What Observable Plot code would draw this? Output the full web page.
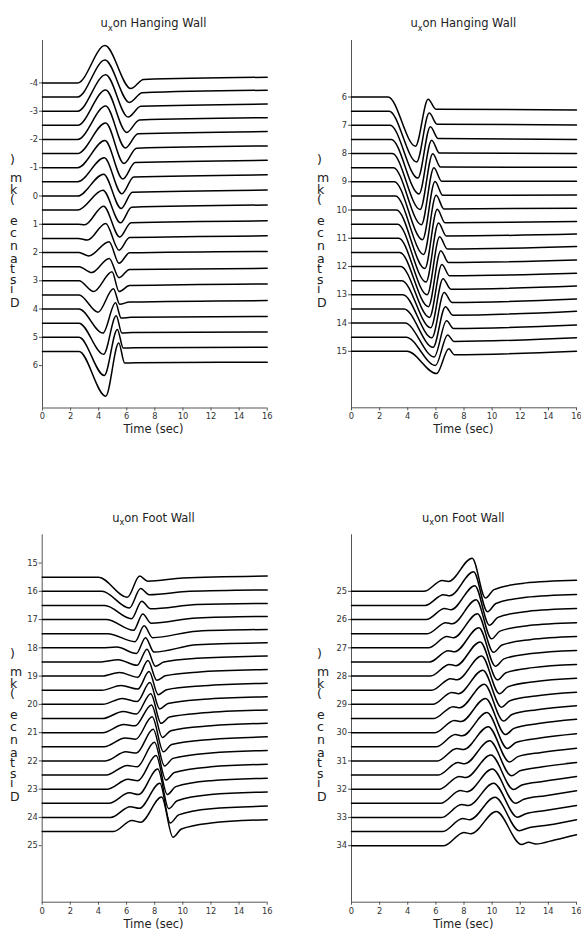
<!DOCTYPE html>
<html>
<head>
<meta charset="utf-8">
<script src="https://cdn.jsdelivr.net/npm/d3@7"></script>
<script src="https://cdn.jsdelivr.net/npm/@observablehq/plot@0.6"></script>
<style>
  body { margin: 0; background: #fff; }
  #wrap { position: relative; width: 581px; height: 950px; overflow: hidden; font-family: "DejaVu Sans", sans-serif; }
</style>
</head>
<body>
<div id="wrap"></div>
<script>
// ---------- DATA ----------
const timeTicks = [0, 2, 4, 6, 8, 10, 12, 14, 16];

// Panel 1: u_x on Hanging Wall (distances -4 .. 5.5 km)
const hwLeftDist = [-4, -3.5, -3, -2.5, -2, -1.5, -1, -0.5, 0, 0.5, 1, 1.5, 2, 2.5, 3, 3.5, 4, 4.5, 5, 5.5];
const hwLeftTicks = [-4, -3, -2, -1, 0, 1, 2, 3, 4, 5, 6];
// each trace: [time (s), displacement in axis units (positive = up)]
const hwLeftTraces = [
  [[2.5,0],[4.45,1.32],[6.29,-0.2],[7.2,0.12],[16,0.2]],
  [[2.5,0],[4.45,1.31],[6.2,-0.19],[7.1,0.15],[16,0.24]],
  [[2.5,0],[4.5,1.29],[6.1,-0.21],[7.0,0.17],[16,0.25]],
  [[2.5,0],[4.5,1.25],[6.0,-0.25],[6.9,0.19],[16,0.27]],
  [[2.5,0],[4.5,1.18],[5.9,-0.3],[6.8,0.2],[16,0.28]],
  [[2.5,0],[4.5,1.08],[5.8,-0.35],[6.7,0.19],[16,0.27]],
  [[2.5,0],[4.45,0.96],[5.72,-0.4],[6.6,0.18],[16,0.26]],
  [[2.5,0],[4.4,0.85],[5.65,-0.42],[6.5,0.17],[16,0.25]],
  [[2.5,0],[4.35,0.77],[5.6,-0.44],[6.4,0.13],[16,0.21]],
  [[2.5,0],[4.3,0.7],[5.55,-0.45],[6.35,0.1],[16,0.18]],
  [[2.55,0],[3.0,-0.02],[4.35,0.64],[5.5,-0.45],[6.3,0.05],[16,0.12]],
  [[2.55,0],[3.2,-0.06],[4.5,0.53],[5.45,-0.42],[6.2,0.03],[16,0.09]],
  [[2.6,0],[3.3,-0.12],[4.74,0.38],[5.45,-0.38],[6.2,-0.01],[16,0.04]],
  [[2.6,0],[3.5,-0.21],[4.75,0.29],[5.45,-0.39],[6.2,-0.1],[16,-0.06]],
  [[2.6,0],[3.65,-0.38],[4.95,0.32],[5.45,-0.38],[6.2,-0.17],[16,-0.11]],
  [[2.6,0],[3.95,-0.61],[5.05,0.22],[5.5,-0.33],[6.2,-0.25],[16,-0.2]],
  [[2.6,0],[4.3,-0.85],[5.2,0.22],[5.6,-0.32],[6.3,-0.29],[16,-0.26]],
  [[2.6,0],[4.35,-1.1],[5.25,0.26],[5.65,-0.35],[6.4,-0.33],[16,-0.31]],
  [[2.6,0],[4.4,-1.35],[5.33,0.28],[5.75,-0.38],[6.5,-0.37],[16,-0.35]],
  [[2.6,0],[4.5,-1.58],[5.43,0.3],[5.85,-0.41],[6.6,-0.4],[16,-0.38]]
];

// Panel 2: u_x on Hanging Wall (distances 6 .. 15 km)
const hwRightDist = [6, 6.5, 7, 7.5, 8, 8.5, 9, 9.5, 10, 10.5, 11, 11.5, 12, 12.5, 13, 13.5, 14, 14.5, 15];
const hwRightTicks = [6, 7, 8, 9, 10, 11, 12, 13, 14, 15];
const hwRightTraces = [
  [[2.6,0],[4.55,-1.74],[5.45,-0.08],[6.0,-0.43],[16,-0.46]],
  [[2.68,0],[4.63,-1.8],[5.53,-0.07],[6.08,-0.46],[16,-0.49]],
  [[2.75,0],[4.72,-1.87],[5.61,-0.05],[6.16,-0.47],[16,-0.5]],
  [[2.83,0],[4.8,-1.93],[5.7,-0.03],[6.25,-0.48],[16,-0.5]],
  [[2.9,0],[4.88,-1.98],[5.78,-0.01],[6.33,-0.48],[16,-0.49]],
  [[2.98,0],[4.97,-2.02],[5.86,0.0],[6.41,-0.48],[16,-0.48]],
  [[3.05,0],[5.05,-2.05],[5.94,0.01],[6.49,-0.48],[16,-0.47]],
  [[3.13,0],[5.13,-2.07],[6.02,0.02],[6.57,-0.46],[16,-0.44]],
  [[3.2,0],[5.22,-2.07],[6.1,0.03],[6.65,-0.45],[16,-0.41]],
  [[3.28,0],[5.3,-2.05],[6.19,0.04],[6.74,-0.42],[16,-0.35]],
  [[3.35,0],[5.38,-2.0],[6.27,0.05],[6.82,-0.38],[16,-0.29]],
  [[3.43,0],[5.47,-1.92],[6.35,0.06],[6.9,-0.36],[16,-0.27]],
  [[3.5,0],[5.55,-1.8],[6.43,0.07],[6.98,-0.33],[16,-0.24]],
  [[3.58,0],[5.63,-1.67],[6.51,0.07],[7.06,-0.3],[16,-0.19]],
  [[3.65,0],[5.72,-1.52],[6.59,0.08],[7.14,-0.27],[16,-0.15]],
  [[3.73,0],[5.8,-1.36],[6.68,0.08],[7.2,-0.22],[16,-0.08]],
  [[3.8,0],[5.88,-1.2],[6.76,0.08],[7.25,-0.19],[16,-0.07]],
  [[3.88,0],[5.97,-1.0],[6.84,0.08],[7.28,-0.15],[16,-0.02]],
  [[3.96,0],[6.05,-0.79],[6.92,0.09],[7.3,-0.12],[16,0.0]]
];

// Panel 3: u_x on Foot Wall (distances 15.5 .. 24.5 km)
const fwLeftDist = [15.5, 16, 16.5, 17, 17.5, 18, 18.5, 19, 19.5, 20, 20.5, 21, 21.5, 22, 22.5, 23, 23.5, 24, 24.5];
const fwLeftTicks = [15, 16, 17, 18, 19, 20, 21, 22, 23, 24, 25];
const fwLeftTraces = [
  [[4.0,0],[6.05,-0.71],[6.93,0.04],[7.5,-0.14],[10,-0.03],[16,0.04]],
  [[4.25,0],[6.2,-0.59],[7.0,0.1],[7.6,-0.12],[10.5,0.0],[16,0.05]],
  [[4.45,0],[6.35,-0.47],[7.08,0.15],[7.7,-0.12],[11,0.03],[16,0.07]],
  [[4.55,0],[6.5,-0.38],[7.15,0.2],[7.75,-0.13],[11,0.06],[16,0.11]],
  [[4.65,0],[6.6,-0.28],[7.25,0.28],[7.85,-0.14],[11,0.09],[16,0.15]],
  [[4.2,0],[5.3,0.03],[6.7,-0.2],[7.35,0.36],[7.95,-0.15],[11,0.11],[16,0.18]],
  [[4.2,0],[5.4,0.08],[6.75,-0.12],[7.45,0.45],[8.05,-0.15],[8.65,0.0],[11,0.13],[16,0.21]],
  [[4.25,0],[5.5,0.13],[6.8,-0.04],[7.52,0.55],[8.15,-0.15],[8.75,0.01],[11,0.14],[16,0.23]],
  [[4.25,0],[5.6,0.17],[6.8,0.04],[7.6,0.66],[8.25,-0.16],[8.85,0.02],[11.5,0.16],[16,0.25]],
  [[4.3,0],[5.7,0.21],[6.75,0.1],[7.66,0.77],[8.35,-0.16],[8.95,0.03],[11.5,0.18],[16,0.27]],
  [[4.3,0],[5.75,0.25],[6.7,0.16],[7.72,0.88],[8.45,-0.17],[9.05,0.05],[11.5,0.2],[16,0.3]],
  [[4.3,0],[5.8,0.29],[6.6,0.24],[7.77,0.98],[8.55,-0.17],[9.15,0.07],[12,0.24],[16,0.33]],
  [[4.4,0],[5.9,0.31],[6.65,0.27],[7.82,1.06],[8.62,-0.18],[9.2,0.08],[12,0.26],[16,0.35]],
  [[4.5,0],[5.95,0.32],[6.7,0.28],[7.89,1.12],[8.7,-0.18],[9.3,0.09],[12,0.28],[16,0.37]],
  [[4.55,0],[6.05,0.34],[6.75,0.29],[7.98,1.16],[8.8,-0.18],[9.4,0.09],[12,0.29],[16,0.38]],
  [[4.65,0],[6.1,0.35],[6.8,0.3],[8.1,1.19],[8.9,-0.19],[9.5,0.09],[12,0.3],[16,0.39]],
  [[4.75,0],[6.2,0.37],[6.85,0.31],[8.22,1.21],[9.0,-0.19],[9.6,0.09],[12,0.31],[16,0.4]],
  [[4.86,0],[6.26,0.38],[6.9,0.32],[8.37,1.21],[9.1,-0.2],[9.7,0.09],[12,0.31],[16,0.4]],
  [[5.07,0],[6.38,0.39],[7.0,0.33],[8.49,1.22],[9.3,-0.2],[9.9,0.09],[12,0.3],[16,0.42]]
];

// Panel 4: u_x on Foot Wall (distances 25 .. 34 km)
const fwRightDist = [25, 25.5, 26, 26.5, 27, 27.5, 28, 28.5, 29, 29.5, 30, 30.5, 31, 31.5, 32, 32.5, 33, 33.5, 34];
const fwRightTicks = [25, 26, 27, 28, 29, 30, 31, 32, 33, 34];
const fwRightTraces = [
  [[5.15,0],[6.45,0.38],[6.9,0.35],[8.58,1.17],[9.53,-0.24],[10.13,0.06],[12.3,0.29],[16,0.39]],
  [[5.23,0],[6.54,0.38],[6.99,0.34],[8.68,1.19],[9.67,-0.22],[10.27,0.07],[12.4,0.29],[16,0.39]],
  [[5.31,0],[6.62,0.39],[7.08,0.35],[8.77,1.2],[9.81,-0.2],[10.41,0.08],[12.5,0.29],[16,0.39]],
  [[5.39,0],[6.71,0.39],[7.17,0.35],[8.87,1.2],[9.96,-0.18],[10.56,0.09],[12.6,0.29],[16,0.39]],
  [[5.47,0],[6.79,0.4],[7.26,0.36],[8.96,1.21],[10.1,-0.16],[10.7,0.1],[12.7,0.29],[16,0.4]],
  [[5.55,0],[6.88,0.4],[7.34,0.36],[9.06,1.21],[10.24,-0.15],[10.84,0.11],[12.8,0.3],[16,0.41]],
  [[5.62,0],[6.96,0.41],[7.43,0.37],[9.15,1.21],[10.38,-0.13],[10.98,0.12],[12.9,0.3],[16,0.41]],
  [[5.7,0],[7.05,0.41],[7.52,0.37],[9.25,1.21],[10.52,-0.12],[11.12,0.12],[13.0,0.3],[16,0.42]],
  [[5.78,0],[7.13,0.42],[7.61,0.38],[9.34,1.21],[10.67,-0.1],[11.27,0.13],[13.1,0.3],[16,0.43]],
  [[5.86,0],[7.22,0.42],[7.7,0.38],[9.44,1.21],[10.81,-0.09],[11.41,0.14],[13.2,0.31],[16,0.45]],
  [[5.94,0],[7.31,0.43],[7.79,0.39],[9.53,1.21],[10.95,-0.07],[11.55,0.15],[13.3,0.32],[16,0.47]],
  [[6.02,0],[7.39,0.43],[7.88,0.39],[9.63,1.21],[11.09,-0.06],[11.69,0.15],[13.4,0.31],[16,0.46]],
  [[6.1,0],[7.48,0.44],[7.97,0.4],[9.72,1.21],[11.23,-0.04],[11.83,0.15],[13.5,0.3],[16,0.45]],
  [[6.18,0],[7.56,0.44],[8.06,0.4],[9.82,1.21],[11.38,-0.03],[11.98,0.15],[13.6,0.29],[16,0.44]],
  [[6.26,0],[7.65,0.45],[8.14,0.41],[9.91,1.21],[11.52,-0.01],[12.12,0.15],[13.7,0.28],[16,0.45]],
  [[6.34,0],[7.73,0.45],[8.23,0.41],[10.01,1.21],[11.66,0.0],[12.26,0.14],[13.8,0.27],[16,0.44]],
  [[6.41,0],[7.82,0.46],[8.32,0.42],[10.1,1.21],[11.8,0.01],[12.4,0.13],[13.9,0.25],[16,0.42]],
  [[6.49,0],[7.9,0.46],[8.41,0.42],[10.2,1.21],[11.94,0.03],[12.5,0.12],[14.0,0.23],[16,0.42]],
  [[6.57,0],[7.99,0.47],[8.5,0.42],[10.29,1.21],[12.09,0.04],[12.6,0.12],[13.1,0.06],[14.5,0.21],[16,0.39]]
];

const panelTitles = ["on Hanging Wall", "on Hanging Wall", "on Foot Wall", "on Foot Wall"];
const xLabel = "Time (sec)";
const yLabel = "Distance (km)";

// ---------- DRAW ----------
const wrap = document.getElementById("wrap");
const AXIS = "#555";

function drawPanel(cfg) {
  const rows = [];
  cfg.traces.forEach((pts, i) => {
    const base = cfg.dist[i];
    rows.push({trace: i, t: 0, d: base});
    for (const [t, a] of pts) rows.push({trace: i, t, d: base - a});
  });
  const svg = Plot.plot({
    width: cfg.w,
    height: 475,
    marginLeft: cfg.ml,
    marginRight: cfg.mr,
    marginTop: cfg.mt,
    marginBottom: cfg.mb,
    x: {domain: [0, 16]},
    y: {domain: cfg.yDomain},
    style: {fontFamily: "DejaVu Sans", fontSize: "8.3px", color: "#333", background: "transparent", overflow: "visible"},
    marks: [
      Plot.axisX({ticks: timeTicks, tickSize: 3, tickPadding: 2.5, label: null, stroke: AXIS}),
      Plot.axisY({ticks: cfg.yTicks, tickSize: 3, tickPadding: 1.5, label: null, stroke: AXIS,
                  tickFormat: d => (d < 0 ? "-" + Math.abs(d) : String(d))}),
      Plot.ruleX([0], {stroke: AXIS, strokeWidth: 1}),
      Plot.ruleY([cfg.yDomain[0]], {stroke: AXIS, strokeWidth: 1}),
      Plot.line(rows, {x: "t", y: "d", z: "trace", stroke: "#000", strokeWidth: 1.5, curve: "monotone-x"})
    ]
  });
  svg.style.position = "absolute";
  svg.style.left = cfg.left + "px";
  svg.style.top = cfg.top + "px";
  wrap.appendChild(svg);
}

drawPanel({dist: hwLeftDist, traces: hwLeftTraces, yTicks: hwLeftTicks, yDomain: [7.5, -5.5],
           left: 0, top: 0, w: 290, ml: 42, mr: 23.3, mt: 40, mb: 67.5});
drawPanel({dist: hwRightDist, traces: hwRightTraces, yTicks: hwRightTicks, yDomain: [17, 4],
           left: 290, top: 0, w: 291, ml: 61, mr: 5, mt: 40, mb: 67.7});
drawPanel({dist: fwLeftDist, traces: fwLeftTraces, yTicks: fwLeftTicks, yDomain: [27, 14],
           left: 0, top: 475, w: 290, ml: 41.7, mr: 23.3, mt: 59.3, mb: 48.3});
drawPanel({dist: fwRightDist, traces: fwRightTraces, yTicks: fwRightTicks, yDomain: [36, 23],
           left: 290, top: 475, w: 291, ml: 61, mr: 5, mt: 59.3, mb: 48.3});

// Titles and axis labels overlay
const ov = d3.select(wrap).append("svg")
  .attr("width", 581).attr("height", 950)
  .style("position", "absolute").style("left", "0px").style("top", "0px")
  .style("pointer-events", "none")
  .attr("font-family", "DejaVu Sans").attr("fill", "#222");

const panelPos = [
  {cx: 153.5, titleY: 27.3, labelY: 433, yl: 10, ylc: 231},
  {cx: 463.3, titleY: 27.3, labelY: 433, yl: 317, ylc: 231},
  {cx: 153.5, titleY: 521.7, labelY: 928, yl: 10, ylc: 725},
  {cx: 463.3, titleY: 521.7, labelY: 928, yl: 317, ylc: 725}
];

panelPos.forEach((p, i) => {
  const t = ov.append("text").attr("x", p.cx).attr("y", p.titleY)
    .attr("text-anchor", "middle").attr("font-size", 11.5);
  t.append("tspan").text("u");
  t.append("tspan").attr("font-size", 8).attr("dy", 3.5).text("x");
  t.append("tspan").attr("dy", -3.5).text(panelTitles[i]);

  ov.append("text").attr("x", p.cx).attr("y", p.labelY)
    .attr("text-anchor", "middle").attr("font-size", 11.5).text(xLabel);

  ov.append("text")
    .attr("transform", `translate(${p.yl},${p.ylc}) rotate(-90)`)
    .attr("text-anchor", "middle").attr("font-size", 12.5)
    .attr("rotate", 90).attr("letter-spacing", 5)
    .text(yLabel);
});
</script>
</body>
</html>
